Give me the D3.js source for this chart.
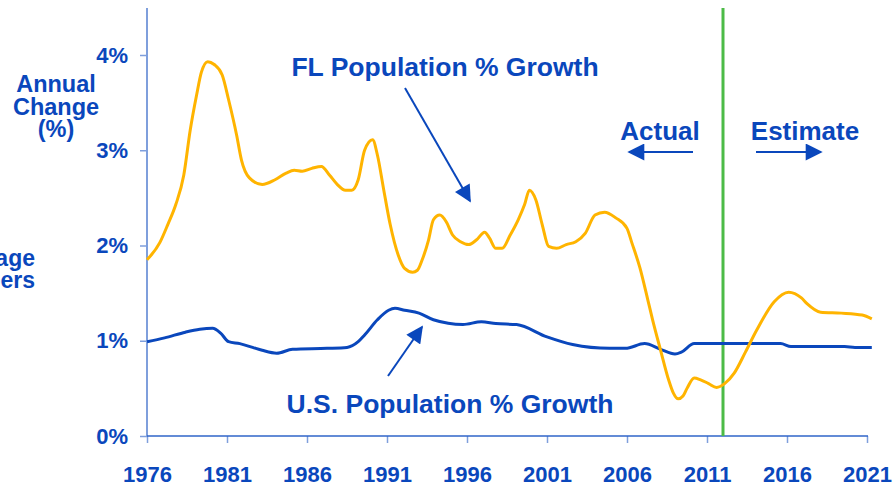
<!DOCTYPE html>
<html>
<head>
<meta charset="utf-8">
<script src="https://cdn.jsdelivr.net/npm/d3@7"></script>
<style>
  body { margin: 0; background: #fff; }
  text { font-family: "Liberation Sans", Arial, sans-serif; font-weight: bold; fill: #0a47bc; }
</style>
</head>
<body>
<svg id="svg" width="895" height="485"></svg>
<script>
// values (year, % annual change)
var flYears = [1976.0, 1976.8, 1977.3, 1977.8, 1978.3, 1978.7, 1979.1, 1979.4, 1979.8, 1980.2, 1980.7, 1981.1, 1981.6, 1981.9, 1982.4, 1983.2, 1984.0, 1984.7, 1985.2, 1985.7, 1986.3, 1986.9, 1987.4, 1987.9, 1988.4, 1988.8, 1989.2, 1989.6, 1990.1, 1990.4, 1990.8, 1991.2, 1991.7, 1992.1, 1992.6, 1992.9, 1993.2, 1993.6, 1993.9, 1994.3, 1994.7, 1995.1, 1995.6, 1996.1, 1996.6, 1997.1, 1997.4, 1997.8, 1998.2, 1998.7, 1999.2, 1999.6, 1999.9, 2000.3, 2000.7, 2001.1, 2001.6, 2002.2, 2002.8, 2003.4, 2004.0, 2004.6, 2005.3, 2006.0, 2006.3, 2006.8, 2007.3, 2007.6, 2008.1, 2008.6, 2008.9, 2009.2, 2009.5, 2009.75, 2010.2, 2010.6, 2011.1, 2011.6, 2012.1, 2012.7, 2013.4, 2014.1, 2015.2, 2016.1, 2016.9, 2017.25, 2018.1, 2019.4, 2020.7, 2021.3];
var flGrowth = [1.85, 2.03, 2.22, 2.43, 2.74, 3.21, 3.58, 3.82, 3.93, 3.90, 3.79, 3.53, 3.16, 2.90, 2.71, 2.64, 2.69, 2.76, 2.79, 2.78, 2.81, 2.83, 2.74, 2.64, 2.58, 2.58, 2.69, 3.00, 3.11, 2.95, 2.58, 2.22, 1.90, 1.76, 1.72, 1.74, 1.85, 2.06, 2.27, 2.32, 2.25, 2.11, 2.04, 2.01, 2.06, 2.14, 2.08, 1.97, 1.97, 2.11, 2.27, 2.43, 2.58, 2.48, 2.22, 1.99, 1.97, 2.01, 2.04, 2.13, 2.32, 2.35, 2.29, 2.18, 2.03, 1.77, 1.43, 1.22, 0.90, 0.59, 0.45, 0.39, 0.42, 0.50, 0.61, 0.59, 0.55, 0.51, 0.55, 0.66, 0.88, 1.11, 1.41, 1.51, 1.45, 1.39, 1.30, 1.29, 1.27, 1.23];

var usYears = [1976.0, 1977.1, 1978.4, 1979.3, 1980.1, 1980.6, 1981.1, 1981.8, 1982.6, 1983.2, 1984.1, 1985.1, 1987.25, 1988.5, 1989.2, 1989.6, 1990.4, 1991.1, 1991.5, 1992.1, 1993.0, 1993.9, 1995.75, 1996.9, 1997.8, 1999.1, 2001.0, 2002.6, 2004.9, 2005.9, 2007.1, 2008.1, 2009.0, 2009.4, 2010.2, 2015.6, 2016.25, 2019.6, 2020.25, 2021.3];
var usGrowth = [0.99, 1.03, 1.09, 1.12, 1.13, 1.08, 0.99, 0.97, 0.93, 0.90, 0.87, 0.91, 0.92, 0.93, 0.99, 1.06, 1.22, 1.32, 1.34, 1.32, 1.29, 1.22, 1.17, 1.20, 1.18, 1.17, 1.04, 0.96, 0.92, 0.92, 0.97, 0.91, 0.86, 0.88, 0.97, 0.97, 0.94, 0.94, 0.93, 0.93];

var xTicks = [1976, 1981, 1986, 1991, 1996, 2001, 2006, 2011, 2016, 2021];
var yTicks = [0, 1, 2, 3, 4];
var splitYear = 2012;

var svg = d3.select("#svg");

var xScale = d3.scaleLinear().domain([1976, 2021]).range([147, 867]);
var yScale = d3.scaleLinear().domain([0, 4]).range([436, 55]);

var axisColor = "#7f9fdc";

// x axis
var gx = svg.append("g")
  .attr("transform", "translate(0,436)")
  .call(d3.axisBottom(xScale).tickValues(xTicks).tickFormat(d3.format("d"))
    .tickSize(7).tickSizeOuter(0).tickPadding(23));
gx.select(".domain").remove();
gx.selectAll("line").attr("stroke", axisColor).attr("stroke-width", 1.5);
gx.selectAll("text").attr("font-size", 22).attr("fill", "#0a47bc");

// y axis
var gy = svg.append("g")
  .attr("transform", "translate(147,0)")
  .call(d3.axisLeft(yScale).tickValues(yTicks).tickFormat(function (d) { return d + "%"; })
    .tickSize(7).tickSizeOuter(0).tickPadding(12));
gy.select(".domain").remove();
gy.selectAll("line").attr("stroke", axisColor).attr("stroke-width", 1.5);
gy.selectAll("text").attr("font-size", 22).attr("fill", "#0a47bc");

svg.append("line")
  .attr("x1", 147).attr("x2", 147).attr("y1", 8).attr("y2", 436)
  .attr("stroke", axisColor).attr("stroke-width", 2);
svg.append("line")
  .attr("x1", 147).attr("x2", xScale(2021) + 1).attr("y1", 436).attr("y2", 436)
  .attr("stroke", "#2f64c8").attr("stroke-width", 1.5);

// split line actual / estimate
svg.append("line")
  .attr("x1", xScale(splitYear)).attr("x2", xScale(splitYear))
  .attr("y1", 8).attr("y2", 436)
  .attr("stroke", "#4cbb47").attr("stroke-width", 3);

var lineGen = d3.line()
  .x(function (d) { return xScale(d[0]); })
  .y(function (d) { return yScale(d[1]); })
  .curve(d3.curveMonotoneX);

svg.append("path")
  .attr("d", lineGen(d3.zip(usYears, usGrowth)))
  .attr("fill", "none").attr("stroke", "#0a47bc").attr("stroke-width", 3);
svg.append("path")
  .attr("d", lineGen(d3.zip(flYears, flGrowth)))
  .attr("fill", "none").attr("stroke", "#ffb400").attr("stroke-width", 3);

// arrow heads
var defs = svg.append("defs");
defs.append("marker")
  .attr("id", "headBig").attr("viewBox", "0 0 10 10")
  .attr("refX", 9).attr("refY", 5)
  .attr("markerWidth", 18).attr("markerHeight", 17)
  .attr("markerUnits", "userSpaceOnUse")
  .attr("orient", "auto")
  .append("path").attr("d", "M0,0L10,5L0,10Z").attr("fill", "#0a47bc");

function arrow(x1, y1, x2, y2, w, m) {
  svg.append("line")
    .attr("x1", x1).attr("y1", y1).attr("x2", x2).attr("y2", y2)
    .attr("stroke", "#0a47bc").attr("stroke-width", w)
    .attr("marker-end", "url(#" + m + ")");
}
arrow(405, 88, 470, 201, 2, "headBig");
arrow(388, 376, 422, 327, 2, "headBig");
arrow(693, 152, 629, 152, 2, "headBig");
arrow(756, 152, 821, 152, 2, "headBig");

// labels
function label(x, y, s, size, anchor) {
  svg.append("text")
    .attr("x", x).attr("y", y)
    .attr("font-size", size)
    .attr("text-anchor", anchor || "middle")
    .text(s);
}
label(445, 76, "FL Population % Growth", 26.5);
label(450, 413, "U.S. Population % Growth", 26.5);
label(660, 140, "Actual", 26);
label(805, 140, "Estimate", 26);

label(56, 92, "Annual", 23.5);
label(56, 115, "Change", 23.5);
label(56, 137, "(%)", 23.5);

label(35, 266, "Percentage", 23, "end");
label(35, 288, "Numbers", 23, "end");
</script>
</body>
</html>
